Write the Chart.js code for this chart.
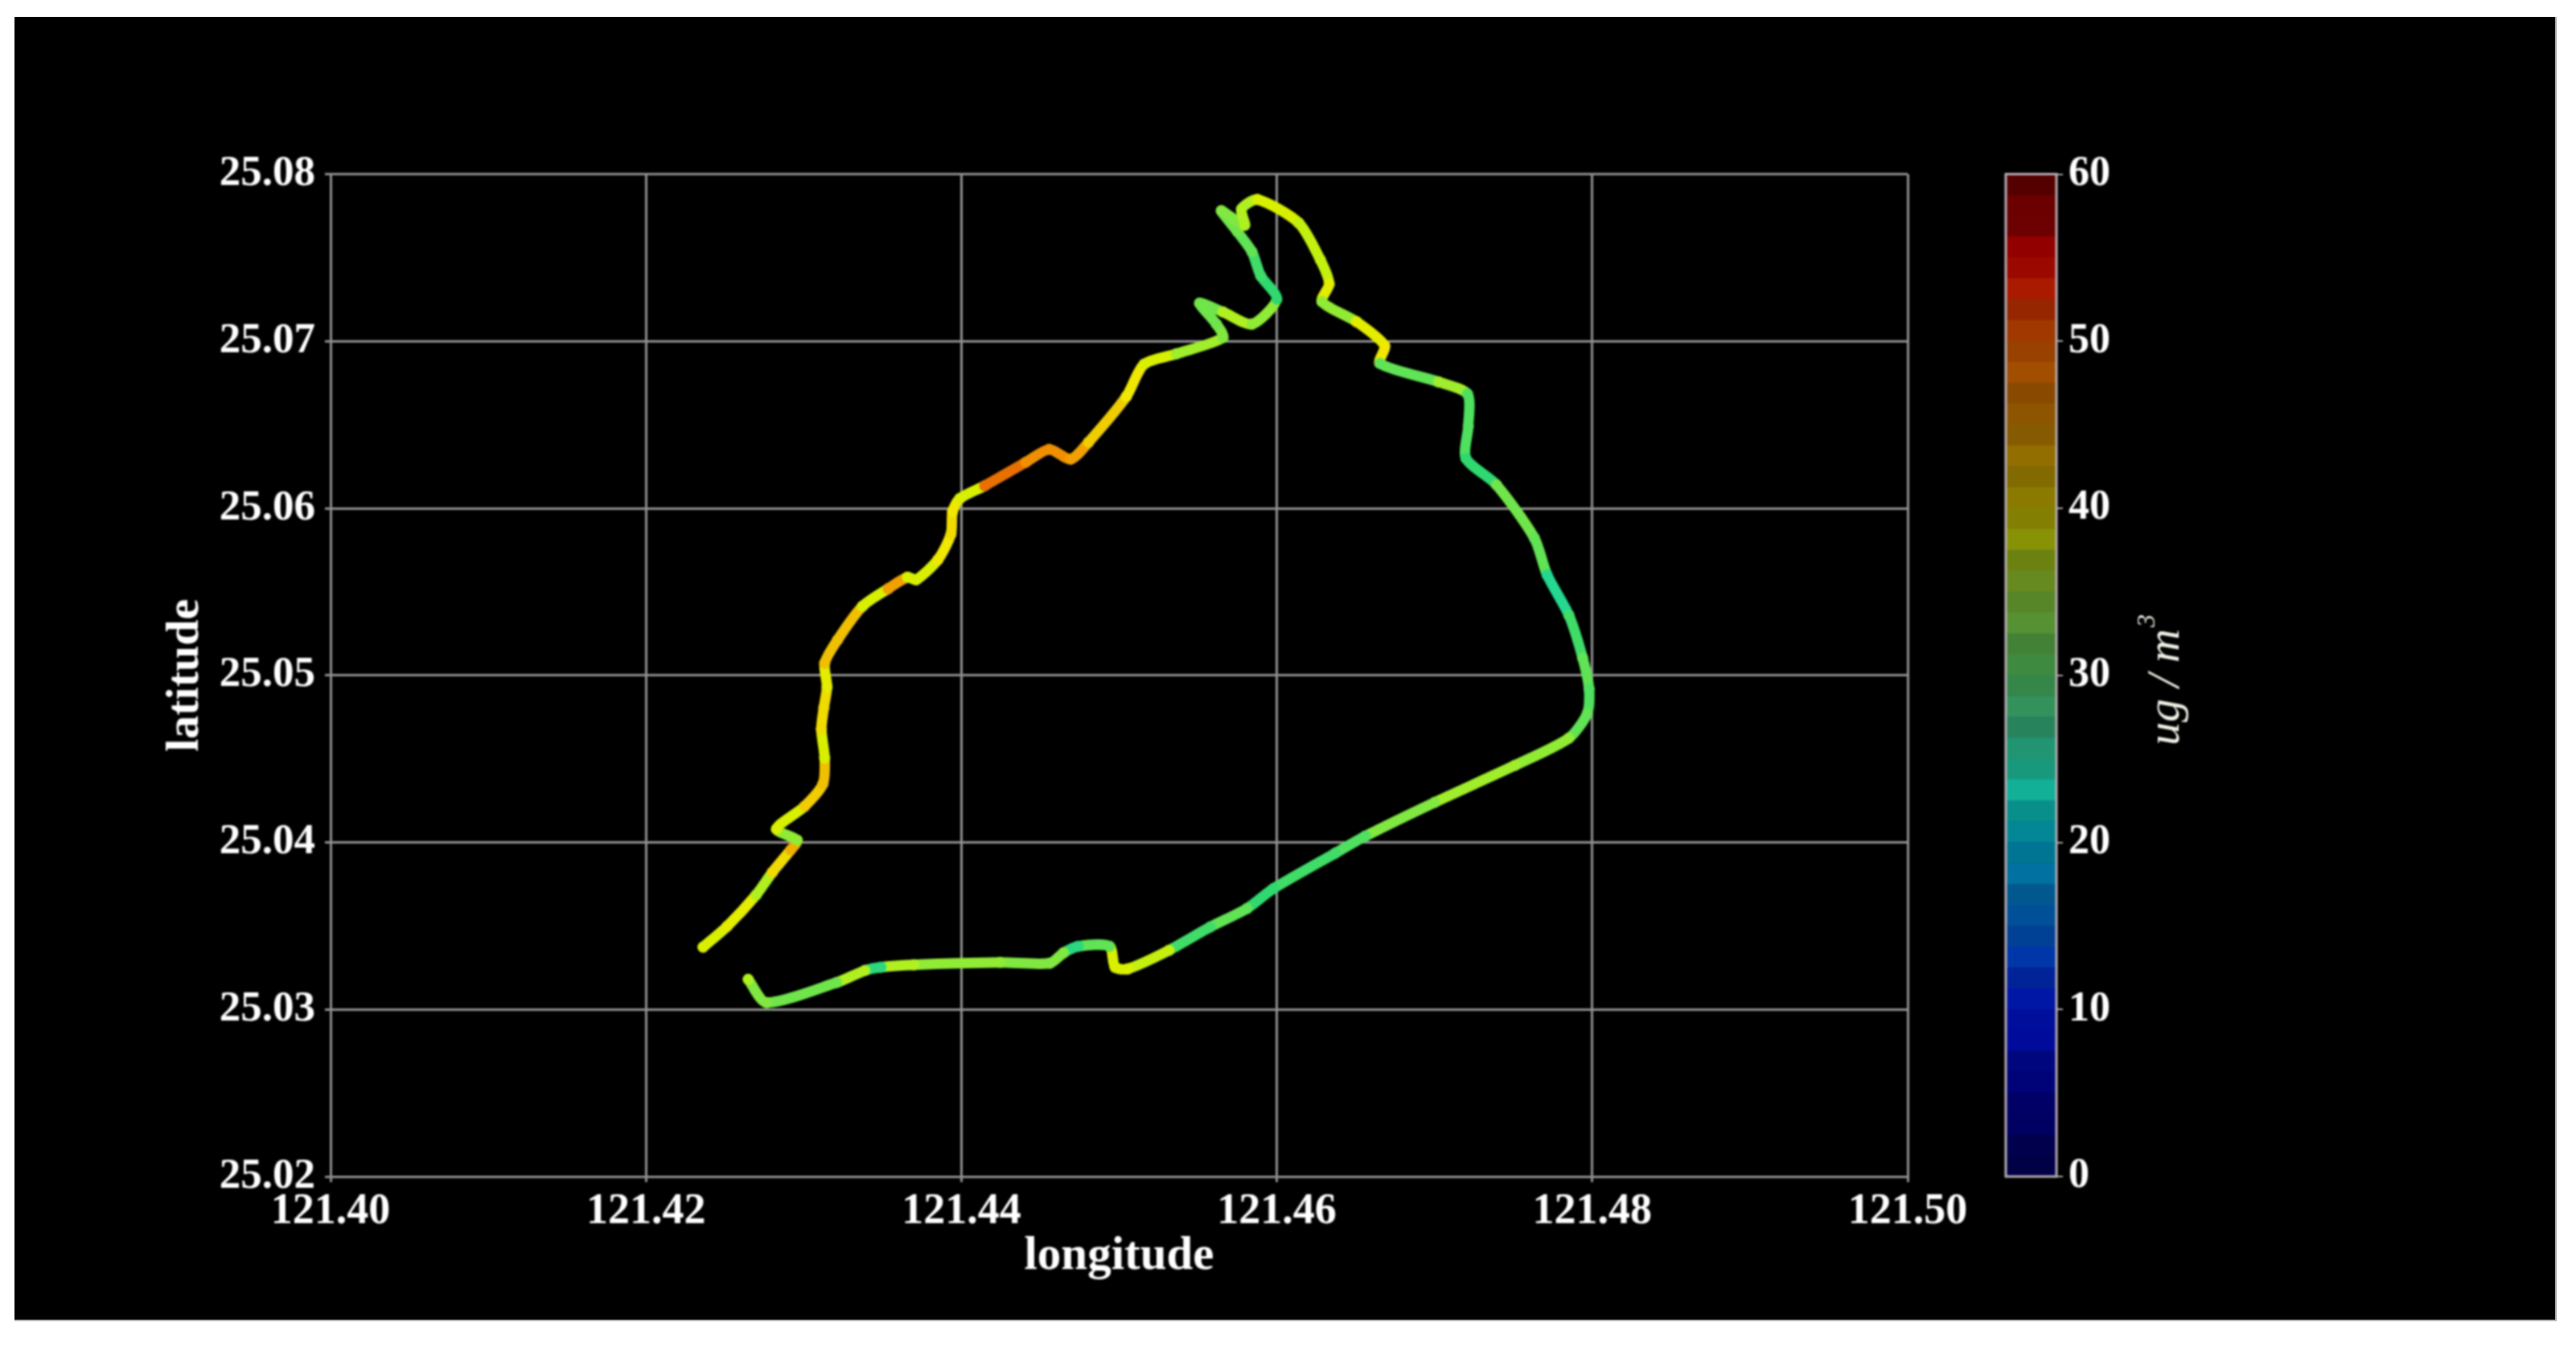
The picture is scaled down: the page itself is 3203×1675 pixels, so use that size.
<!DOCTYPE html>
<html lang="en">
<head>
  <meta charset="UTF-8">
  <title>PM concentration along route</title>
  <script src="https://cdn.jsdelivr.net/npm/chart.js"></script>
  <style>
    html, body { margin: 0; padding: 0; background: #ffffff; }
    #panel { position: absolute; left: 18px; top: 21px; width: 3159px; height: 1620px; background: #000000; border-right: 2px solid #a8a8a8; border-bottom: 2px solid #b8b8b8; }
    canvas { position: absolute; filter: blur(1.1px); }
    #routeChart { left: 0; top: 0; }
    #barChart { left: 2440px; top: 150px; }
  </style>
</head>
<body>
<div id="panel"></div>
<canvas id="routeChart" width="3203" height="1675"></canvas>
<canvas id="barChart" width="360" height="1400"></canvas>

<script>
  const lonTicks = [121.40, 121.42, 121.44, 121.46, 121.48, 121.50];
  const latTicks = [25.02, 25.03, 25.04, 25.05, 25.06, 25.07, 25.08];
  const pmTicks = [0, 10, 20, 30, 40, 50, 60];

  // route, in driving order
  const lon = [
    121.42362, 121.42515, 121.42699, 121.42801, 121.42918, 121.42959, 121.42827, 121.43005, 121.43122, 121.43133,
    121.43112, 121.43128, 121.43148, 121.43133, 121.43214, 121.43372, 121.43536, 121.43658, 121.43714, 121.43852,
    121.43934, 121.43944, 121.43990, 121.44148, 121.44408, 121.44556, 121.44694, 121.44806, 121.45046, 121.45158,
    121.45362, 121.45658, 121.45617, 121.45510, 121.45658, 121.45842, 121.46000, 121.45898, 121.45842, 121.45750,
    121.45648, 121.45796, 121.45776, 121.45878, 121.46138, 121.46276, 121.46332, 121.46286, 121.46505, 121.46684,
    121.46653, 121.47026, 121.47209, 121.47214, 121.47199, 121.47393, 121.47633, 121.47714, 121.47852, 121.47939,
    121.47980, 121.47969, 121.47852, 121.47510, 121.47000, 121.46561, 121.46372, 121.45980, 121.45811, 121.45577,
    121.45316, 121.45056, 121.44974, 121.44939, 121.44740, 121.44648, 121.44561, 121.44245, 121.43699, 121.43490,
    121.43388, 121.43209, 121.42765, 121.42648
  ];
  const lat = [
    25.03373, 25.03498, 25.03686, 25.03821, 25.03955, 25.04013, 25.04080, 25.04215, 25.04350, 25.04504,
    25.04677, 25.04807, 25.04932, 25.05072, 25.05211, 25.05413, 25.05519, 25.05587, 25.05572, 25.05693,
    25.05846, 25.05981, 25.06058, 25.06135, 25.06275, 25.06352, 25.06294, 25.06395, 25.06669, 25.06862,
    25.06924, 25.07021, 25.07102, 25.07228, 25.07175, 25.07102, 25.07252, 25.07391, 25.07536, 25.07656,
    25.07781, 25.07694, 25.07791, 25.07848, 25.07709, 25.07487, 25.07343, 25.07237, 25.07117, 25.06973,
    25.06867, 25.06756, 25.06684, 25.06491, 25.06299, 25.06140, 25.05822, 25.05601, 25.05360, 25.05105,
    25.04918, 25.04773, 25.04624, 25.04461, 25.04239, 25.04037, 25.03936, 25.03724, 25.03604, 25.03493,
    25.03354, 25.03243, 25.03253, 25.03378, 25.03378, 25.03339, 25.03277, 25.03281, 25.03267, 25.03253,
    25.03233, 25.03161, 25.03041, 25.03180
  ];
  const pm = [
    38, 39, 36, 41, 44, 34, 38, 42, 43, 38,
    41, 41, 39, 43, 43, 38, 45, 38, 38, 40,
    41, 40, 38, 48, 46, 46, 45, 42, 40, 38,
    35, 33, 32, 32, 36, 34, 28, 29, 31, 32,
    33, 36, 36, 38, 37, 37, 39, 34, 39, 40,
    31, 35, 30, 30, 28, 32, 31, 26, 29, 31,
    30, 31, 34, 35, 33, 30, 29, 28, 31, 29,
    37, 38, 38, 31, 27, 33, 33, 34, 36, 27,
    36, 32, 33, 36
  ];

  // colour key: bright for the route, dim for the bar
  const routeStops = [[0, '#00008f'], [10, '#0020ff'], [20, '#00b0d0'], [25, '#20d8a0'], [28, '#30d870'], [30, '#50e060'], [33, '#80e840'], [36, '#b0f020'], [38, '#d8f000'], [40, '#f0e800'], [43, '#f0c000'], [46, '#f09000'], [48, '#e87000'], [55, '#e00000'], [60, '#800000']];
  const barStops = [[0, '#000040'], [5, '#000070'], [10, '#0010a8'], [15, '#004a98'], [20, '#007f98'], [23, '#10a890'], [27, '#2a8a60'], [30, '#3a8a45'], [35, '#5f8a25'], [38, '#808a05'], [40, '#8a8000'], [45, '#8a5800'], [50, '#a04000'], [55, '#a00000'], [57, '#700000'], [60, '#500000']];
  const bandShade = [1, 0.94, 1.06, 0.97];

  function hexRgb(h) {
    return [1, 3, 5].map(i => parseInt(h.substr(i, 2), 16));
  }

  function pickColor(stops, v, shade = 1) {
    let i = 0;
    while (i < stops.length - 2 && v > stops[i + 1][0]) i++;
    const [v0, c0] = stops[i];
    const [v1, c1] = stops[i + 1];
    const t = Math.min(1, Math.max(0, (v - v0) / (v1 - v0)));
    const a = hexRgb(c0), b = hexRgb(c1);
    const rgb = a.map((x, k) => Math.min(255, Math.round((x + (b[k] - x) * t) * shade)));
    return `rgb(${rgb[0]},${rgb[1]},${rgb[2]})`;
  }

  const serif = '"Liberation Serif", "Times New Roman", serif';
  const gridGrey = '#8f8f8f';

  new Chart(document.getElementById('routeChart'), {
    type: 'scatter',
    data: {
      datasets: [{
        data: lon.map((x, i) => ({ x, y: lat[i] })),
        showLine: true,
        borderWidth: 13,
        tension: 0.25,
        borderCapStyle: 'round',
        borderJoinStyle: 'round',
        pointRadius: 7,
        pointBorderWidth: 0,
        pointBackgroundColor: pm.map(v => pickColor(routeStops, v)),
        segment: { borderColor: c => pickColor(routeStops, pm[c.p0DataIndex]) }
      }]
    },
    options: {
      responsive: false,
      animation: false,
      layout: { padding: { left: 200, top: 216.5, right: 831, bottom: 83 } },
      plugins: { legend: { display: false }, tooltip: { enabled: false } },
      scales: {
        x: {
          type: 'linear',
          min: 121.40,
          max: 121.50,
          afterBuildTicks: s => { s.ticks = lonTicks.map(value => ({ value })); },
          afterFit: s => { s.height = 129; },
          grid: { color: gridGrey, lineWidth: 3, tickLength: 7, tickColor: gridGrey },
          border: { color: gridGrey, width: 3 },
          ticks: {
            color: '#ffffff',
            font: { family: serif, weight: 'bold', size: 54 },
            padding: 5,
            maxRotation: 0,
            autoSkip: false,
            callback: v => v.toFixed(2)
          },
          title: { display: true, text: 'longitude', color: '#ffffff', padding: 0, font: { family: serif, weight: 'bold', size: 59, lineHeight: 1 } }
        },
        y: {
          min: 25.02,
          max: 25.08,
          afterBuildTicks: s => { s.ticks = latTicks.map(value => ({ value })); },
          afterFit: s => { s.width = 211; },
          grid: { color: gridGrey, lineWidth: 3, tickLength: 7, tickColor: gridGrey },
          border: { color: gridGrey, width: 3 },
          ticks: {
            color: '#ffffff',
            font: { family: serif, weight: 'bold', size: 53 },
            padding: 12,
            autoSkip: false,
            callback: v => v.toFixed(2)
          },
          title: { display: true, text: 'latitude', color: '#ffffff', padding: 2, font: { family: serif, weight: 'bold', size: 58, lineHeight: 1 } }
        }
      }
    }
  });

  // colour bar, one floating bar per band
  const bandEdges = [];
  for (let v = 0; v <= 60; v += 1.25) bandEdges.push(v);

  const barFrame = {
    id: 'barFrame',
    afterDatasetsDraw(chart) {
      const { ctx, chartArea: a } = chart;
      ctx.save();
      ctx.strokeStyle = '#b9aeb4';
      ctx.lineWidth = 3;
      ctx.strokeRect(a.left, a.top, a.right - a.left, a.bottom - a.top);
      // unit label reads bottom to top, Chart.js would turn a right-hand title the other way
      ctx.translate(269, 777);
      ctx.rotate(-Math.PI / 2);
      ctx.fillStyle = '#eef3e6';
      ctx.font = `italic 58px ${serif}`;
      ctx.fillText('ug / m', 0, 0);
      const w = ctx.measureText('ug / m').width;
      ctx.font = `italic 32px ${serif}`;
      ctx.fillText('3', w + 2, -30);
      ctx.restore();
    }
  };

  new Chart(document.getElementById('barChart'), {
    type: 'bar',
    plugins: [barFrame],
    data: {
      labels: [''],
      datasets: bandEdges.slice(0, -1).map((lo, i) => ({
        data: [[lo, bandEdges[i + 1]]],
        backgroundColor: pickColor(barStops, lo + 0.6, bandShade[i % bandShade.length]),
        barPercentage: 1,
        categoryPercentage: 1,
        grouped: false
      }))
    },
    options: {
      responsive: false,
      animation: false,
      layout: { padding: { left: 54, top: 66.5, right: 143, bottom: 87 } },
      plugins: { legend: { display: false }, tooltip: { enabled: false } },
      scales: {
        x: { display: false },
        y: {
          position: 'right',
          min: 0,
          max: 60,
          afterBuildTicks: s => { s.ticks = pmTicks.map(value => ({ value })); },
          afterFit: s => { s.width = 100; },
          grid: { drawOnChartArea: false, tickLength: 8, tickColor: '#a8a8a8', lineWidth: 2 },
          border: { display: false },
          ticks: { color: '#ffffff', font: { family: serif, weight: 'bold', size: 52 }, padding: 7, autoSkip: false }
        }
      }
    }
  });
</script>
</body>
</html>
